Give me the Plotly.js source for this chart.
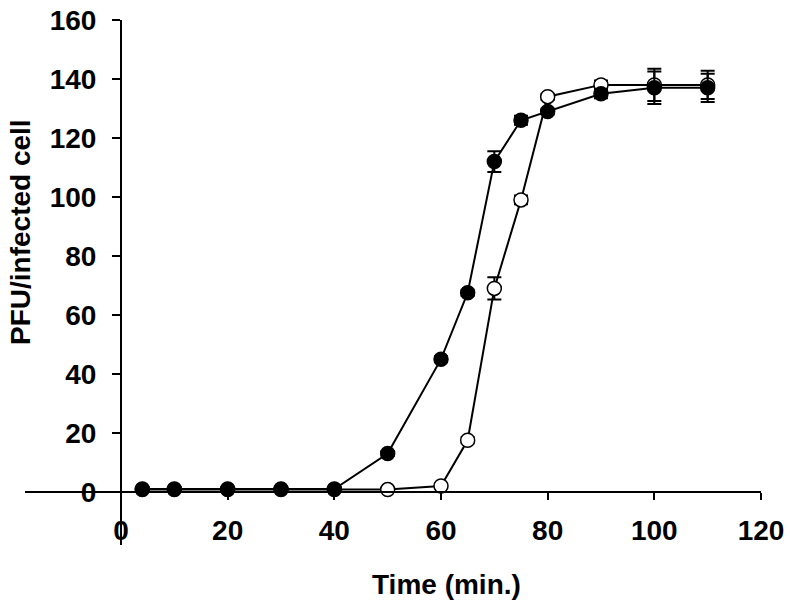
<!DOCTYPE html>
<html>
<head>
<meta charset="utf-8">
<script src="https://cdn.plot.ly/plotly-3.0.1.min.js"></script>
<style>html,body{margin:0;padding:0;background:#fff;}#chart{width:790px;height:605px;}</style>
</head>
<body>
<div id="chart"></div>
<script>
// Time points (min.)
const timeOpen = [4, 10, 20, 30, 40, 50, 60, 65, 70, 75, 80, 90, 100, 110];
const pfuOpen  = [0.8, 0.8, 0.8, 0.8, 0.8, 0.8, 2, 17.5, 69, 99, 134, 138, 138, 138];
const errOpen  = [0.5, 0.5, 0.5, 0.5, 0.5, 0.5, 0.8, 1, 3.8, 1.5, 1, 1.5, 5.5, 4.8];

const timeFilled = [4, 10, 20, 30, 40, 50, 60, 65, 70, 75, 80, 90, 100, 110];
const pfuFilled  = [1, 1, 1, 1, 1, 13, 45, 67.5, 112, 126, 129, 135, 137, 137];
const errFilled  = [0.5, 0.5, 0.5, 0.5, 0.5, 0.8, 1, 1, 3.5, 1.5, 1, 1.5, 5.5, 4.8];

const xTicks = [0, 20, 40, 60, 80, 100, 120];
const yTicks = [0, 20, 40, 60, 80, 100, 120, 140, 160];

const xTitle = "Time (min.)";
const yTitle = "PFU/infected cell";

const fontFam = "Liberation Sans, Arial, sans-serif";

const traces = [
  {
    x: timeOpen, y: pfuOpen, type: "scatter", mode: "lines+markers",
    line: {color: "#000", width: 2},
    marker: {symbol: "circle", size: 14, color: "#fff", line: {color: "#000", width: 1.5}},
    error_y: {type: "data", array: errOpen, visible: true, color: "#000", thickness: 2, width: 7},
    showlegend: false, cliponaxis: false
  },
  {
    x: timeFilled, y: pfuFilled, type: "scatter", mode: "lines+markers",
    line: {color: "#000", width: 2},
    marker: {symbol: "circle", size: 14, color: "#000", line: {color: "#000", width: 1.5}},
    error_y: {type: "data", array: errFilled, visible: true, color: "#000", thickness: 2, width: 7},
    showlegend: false, cliponaxis: false
  }
];

const L = 25, R = 761, T = 20, B = 545;
const W = 790, H = 605;

const layout = {
  width: W, height: H,
  margin: {l: L, r: W - R, t: T, b: H - B, pad: 0},
  paper_bgcolor: "#fff", plot_bgcolor: "#fff",
  font: {family: fontFam, color: "#000"},
  xaxis: {
    range: [-18, 120], tickmode: "array", tickvals: xTicks, ticktext: xTicks.map(String),
    showgrid: false, zeroline: false, showline: true, linecolor: "#000", linewidth: 2,
    ticks: "outside", ticklen: 7, tickwidth: 2, tickcolor: "#000",
    anchor: "free", position: (B - 492) / (B - T),
    tickfont: {family: fontFam, size: 28, weight: "bold", color: "#000"},
    ticklabelstandoff: 6
  },
  yaxis: {
    range: [-18, 160], tickmode: "array", tickvals: yTicks, ticktext: yTicks.map(String),
    showgrid: false, zeroline: false, showline: true, linecolor: "#000", linewidth: 2,
    ticks: "outside", ticklen: 8, tickwidth: 2, tickcolor: "#000",
    anchor: "free", position: (121 - L) / (R - L),
    tickfont: {family: fontFam, size: 28, weight: "bold", color: "#000"},
    ticklabelstandoff: 10
  },
  annotations: [
    {
      text: xTitle, xref: "paper", yref: "paper",
      x: (446 - L) / (R - L), y: (B - 584) / (B - T),
      xanchor: "center", yanchor: "middle", showarrow: false,
      font: {family: fontFam, size: 28, weight: "bold", color: "#000"}
    },
    {
      text: yTitle, xref: "paper", yref: "paper",
      x: (20 - L) / (R - L), y: (B - 232) / (B - T),
      xanchor: "center", yanchor: "middle", showarrow: false, textangle: -90,
      font: {family: fontFam, size: 28, weight: "bold", color: "#000"}
    }
  ]
};

Plotly.newPlot("chart", traces, layout, {displayModeBar: false, staticPlot: true});
</script>
</body>
</html>
